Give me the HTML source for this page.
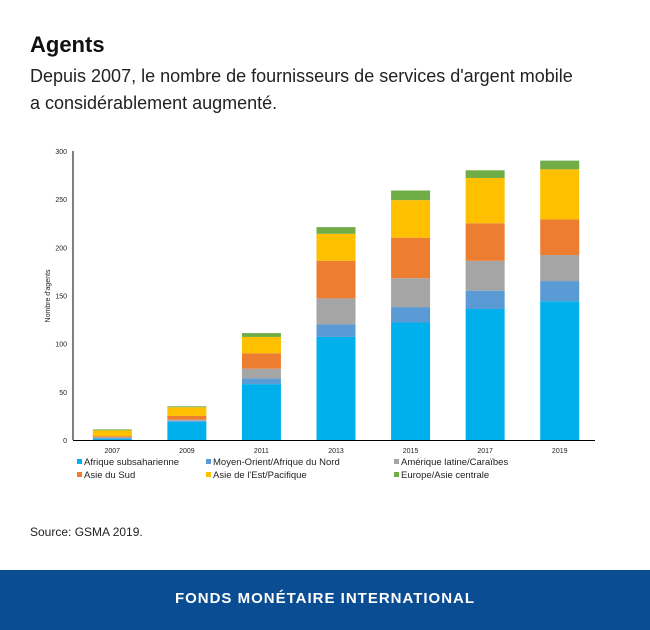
<!DOCTYPE html>
<html><head><meta charset="utf-8"><style>
body{margin:0;width:650px;height:630px;background:#fff;font-family:"Liberation Sans",sans-serif;position:relative;overflow:hidden}
.t{position:absolute;left:30px;top:32px;font-size:22px;font-weight:bold;color:#111}
.s{position:absolute;left:30px;top:63px;font-size:18px;line-height:27px;color:#222}
.src{position:absolute;left:30px;top:525px;font-size:12px;color:#222}
.foot{position:absolute;left:0;top:570px;width:650px;height:60px;background:#0b4d92;color:#fff;font-size:15px;font-weight:bold;letter-spacing:1px;text-align:center;line-height:58px}
</style></head><body>
<div class="t">Agents</div>
<div class="s">Depuis 2007, le nombre de fournisseurs de services d'argent mobile<br>a considérablement augmenté.</div>
<svg id="c" width="650" height="500" style="position:absolute;left:0;top:0"></svg>
<div class="src">Source:  GSMA 2019.</div>
<div class="foot">FONDS MONÉTAIRE INTERNATIONAL</div>
<script>
const years=["2007","2009","2011","2013","2015","2017","2019"];
const ssa=[1,19,58,107,122,136,144];
const mena=[1,1,6,13,16,19,21];
const latam=[1,1,10,27,30,31,27];
const southAsia=[1,4,16,39,42,39,37];
const eap=[6,9,17,28,39,47,52];
const eca=[1,1,4,7,10,8,9];
const ticks=[0,50,100,150,200,250,300];
const names=["Afrique subsaharienne","Moyen-Orient/Afrique du Nord","Amérique latine/Caraïbes","Asie du Sud","Asie de l'Est/Pacifique","Europe/Asie centrale"];
const colors=["#00b0ec","#5b9bd5","#a5a5a5","#ed7d31","#ffc000","#70ad47"];
const series=[ssa,mena,latam,southAsia,eap,eca];
const NS="http://www.w3.org/2000/svg",svg=document.getElementById('c');
const x0=73,x1=595,yb=440,yt=151,ymax=300;
const y=v=>yb-(yb-yt)*v/ymax;
const step=(x1-x0)/years.length,bw=39;
const bx=i=>x0+step*(i+0.5)-bw/2+2;
function mk(t,a,txt){const e=document.createElementNS(NS,t);for(const k in a)e.setAttribute(k,a[k]);if(txt!=null)e.textContent=txt;svg.appendChild(e);return e;}
ticks.forEach(v=>{const e=mk('text',{x:x0-6,y:y(v)+3,'text-anchor':'end','font-size':7,fill:'#222'},v);

});
years.forEach((yr,i)=>{let acc=0;series.forEach((s,j)=>{const r=mk('rect',{x:bx(i),y:y(acc+s[i]),width:bw,height:y(acc)-y(acc+s[i]),fill:colors[j]});


acc+=s[i];});
const t=mk('text',{x:bx(i)+bw/2,y:yb+13,'text-anchor':'middle','font-size':7,fill:'#222'},yr);

});
const ax=mk('line',{x1:x0,y1:yt,x2:x0,y2:yb,stroke:'#000','stroke-width':1});


const bx2=mk('line',{x1:x0,y1:yb+0.5,x2:x1,y2:yb+0.5,stroke:'#000','stroke-width':1});


const yl=mk('text',{x:0,y:0,transform:'translate(50,296) rotate(-90)','text-anchor':'middle','font-size':7,fill:'#222'},"Nombre d'agents");


const lx=[77,206,394],ly=[465,478];
names.forEach((n,j)=>{const cx=lx[j%3],cy=ly[Math.floor(j/3)];
const r=mk('rect',{x:cx,y:cy-6,width:5,height:5,fill:colors[j]});


const t=mk('text',{x:cx+7,y:cy,'font-size':9.5,fill:'#222'},n);

});
</script>
</body></html>
